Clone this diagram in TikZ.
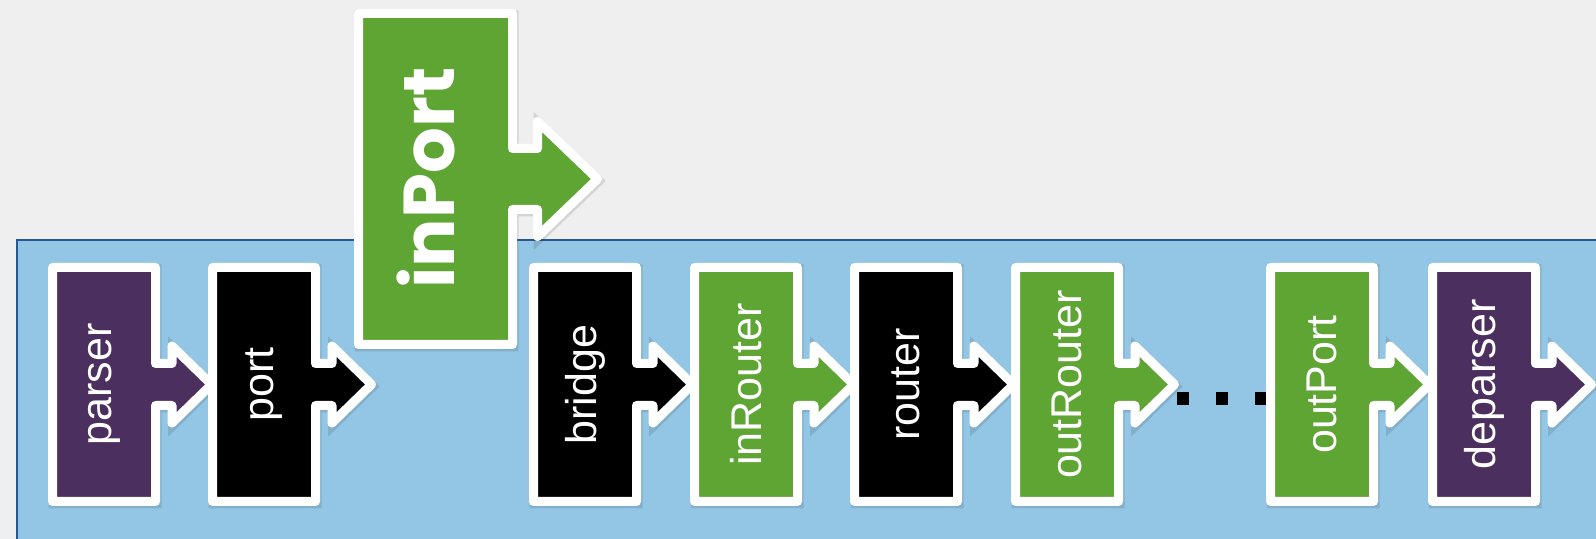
\documentclass[tikz,border=0pt]{standalone}
\usepackage{fontspec}
\setmainfont{Liberation Sans}
\newfontfamily\inportfont{Poppins}
\definecolor{pagegray}{RGB}{239,239,239}
\definecolor{panelblue}{RGB}{147,198,229}
\definecolor{panelrim}{RGB}{38,88,148}
\definecolor{stagepurple}{RGB}{75,47,95}
\definecolor{stagegreen}{RGB}{94,165,52}
\definecolor{stageblack}{RGB}{0,0,0}
\tikzset{
  stageshape/.style={fill=#1, draw=white, line width=4.5pt, line join=round,
    preaction={draw=black, fill=black, draw opacity=0.11, fill opacity=0.11,
      line width=5pt, transform canvas={shift={(0.5pt,-1pt)}}}},
  stagelabel/.style={text=white, rotate=90, inner sep=0pt,
    font=\fontsize{21.5pt}{25pt}\selectfont},
  biglabel/.style={text=white, rotate=90, inner sep=0pt,
    font=\inportfont\bfseries\fontsize{36pt}{40pt}\selectfont},
  gapdots/.style={draw=black, line width=6.5pt, dash pattern=on 6pt off 13.5pt},
}
% one pipeline stage: body with an arrow tab on its right side
\newcommand\stagebox[4]{%
  \path[stageshape=#3] (#2,267.5) -- ++(103,0) -- ++(0,96) -- ++(16.5,0)
    -- ++(0,-17.5) -- ++(39.5,38.5) -- ++(-39.5,38.5) -- ++(0,-17.5)
    -- ++(-16.5,0) -- ++(0,96) -- ++(-103,0) -- cycle;
  \node[stagelabel] (#1) at (#2+51.5,384.5) {#4};
}
\begin{document}
\begin{tikzpicture}[x=0.5pt, y=-0.5pt]
  \fill[pagegray] (0,0) rectangle (1596,539);
  \useasboundingbox (0,0) rectangle (1596,539);

  % pipeline panel
  \path[draw=panelrim, fill=panelblue, line width=1pt] (17,240) rectangle (1620,580);

  \stagebox{parser}{52.5}{stagepurple}{parser}
  \stagebox{port}{212.5}{stageblack}{port}

  % enlarged stage lifted above the panel
  \path[stageshape=stagegreen] (358.5,13.5) -- ++(154,0) -- ++(0,135) -- ++(25,0)
    -- ++(0,-27) -- ++(60,57.5) -- ++(-60,57.5) -- ++(0,-27)
    -- ++(-25,0) -- ++(0,135) -- ++(-154,0) -- cycle;
  \node[biglabel] (inPort) at (426,178) {inPort};

  \stagebox{bridge}{533.5}{stageblack}{bridge}
  \stagebox{inRouter}{694.5}{stagegreen}{inRouter}
  \stagebox{router}{854.5}{stageblack}{router}
  \stagebox{outRouter}{1015.5}{stagegreen}{outRouter}

  \coordinate (gapstart) at (1177,398.5);
  \coordinate (gapend) at (1267,398.5);
  \draw[gapdots] (gapstart) -- (gapend);

  \stagebox{outPort}{1270.5}{stagegreen}{outPort}
  \stagebox{deparser}{1432.5}{stagepurple}{deparser}
\end{tikzpicture}
\end{document}
